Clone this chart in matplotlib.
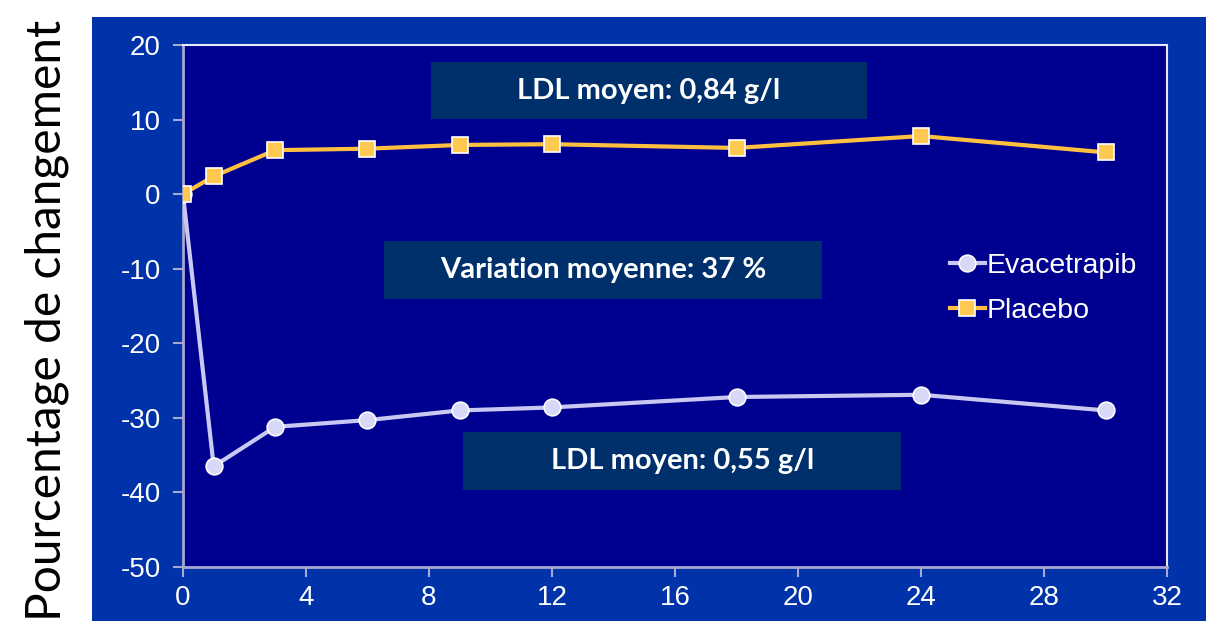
import matplotlib.pyplot as plt
from matplotlib.patches import Rectangle

months = [0, 1, 3, 6, 9, 12, 18, 24, 30]
evacetrapib = [0, -36.5, -31.2, -30.3, -29.0, -28.6, -27.2, -26.9, -29.0]
placebo = [0, 2.4, 5.9, 6.1, 6.6, 6.7, 6.2, 7.8, 5.6]
series_names = ["Evacetrapib", "Placebo"]
xticks = [0, 4, 8, 12, 16, 20, 24, 28, 32]
yticks = [20, 10, 0, -10, -20, -30, -40, -50]
ylabel = "Pourcentage de changement"
box_texts = ["LDL moyen: 0,84 g/l", "Variation moyenne: 37 %", "LDL moyen: 0,55 g/l"]


def main():
    plt.rcParams["axes.unicode_minus"] = False
    fig = plt.figure(figsize=(12.06, 6.28), dpi=100)
    fig.patch.set_facecolor("white")

    # outer blue slide panel
    fig.patches.append(Rectangle((0.0763, 0.011), 0.93, 0.962, transform=fig.transFigure,
                                 facecolor="#0033aa", edgecolor="none", zorder=-5))

    ax = fig.add_axes([0.1517, 0.0971, 0.8160, 0.8312])
    ax.set_facecolor("#000090")

    ax.plot(months, evacetrapib, color="#c8c8f2", lw=3, marker="o", ms=12,
            mfc="#d8d8f8", mec="white", mew=1.2, label=series_names[0], zorder=4)
    ax.plot(months, placebo, color="#ffc040", lw=3, marker="s", ms=11,
            mfc="#ffc850", mec="white", mew=1.2, label=series_names[1], zorder=4)

    # annotation boxes (data coords)
    boxes = [(8.05, 10.1, 14.2, 7.6), (6.55, -14.05, 14.23, 7.8), (9.12, -39.65, 14.24, 7.75)]
    for (x0, y0, w, h), txt in zip(boxes, box_texts):
        ax.add_patch(Rectangle((x0, y0), w, h, facecolor="#00306c", edgecolor="none", zorder=3))
        ax.text(x0 + w / 2, y0 + h / 2, txt, color="white", fontsize=21, fontweight="bold",
                family="Lato", ha="center", va="center", zorder=5)

    ax.set_xlim(0, 32)
    ax.set_ylim(-50, 20)
    ax.set_xticks(xticks)
    ax.set_yticks(yticks)
    ax.tick_params(axis="both", colors="#a8a8d0", length=7, width=1.5, direction="out",
                   labelcolor="white", labelsize=20)
    ax.tick_params(axis="y", pad=9)
    ax.tick_params(axis="x", pad=6)
    for lab in ax.get_xticklabels() + ax.get_yticklabels():
        lab.set_family("Liberation Sans")

    for side in ["left", "bottom"]:
        ax.spines[side].set_color("#a8a8d0")
        ax.spines[side].set_linewidth(2)
    for side in ["top", "right"]:
        ax.spines[side].set_color("#e8e8ff")
        ax.spines[side].set_linewidth(1.5)

    leg = ax.legend(loc="upper left", bbox_to_anchor=(0.753, 0.65), frameon=False,
                    handlelength=1.25, handletextpad=0.05, labelspacing=0.65,
                    prop={"family": "Liberation Sans", "size": 20.5})
    for t in leg.get_texts():
        t.set_color("white")

    fig.text(0.039, 0.49, ylabel, rotation=90, ha="center", va="center",
             fontsize=34.5, family="Lato", color="black")

    fig.savefig("out.png", dpi=100)


if __name__ == "__main__":
    main()
